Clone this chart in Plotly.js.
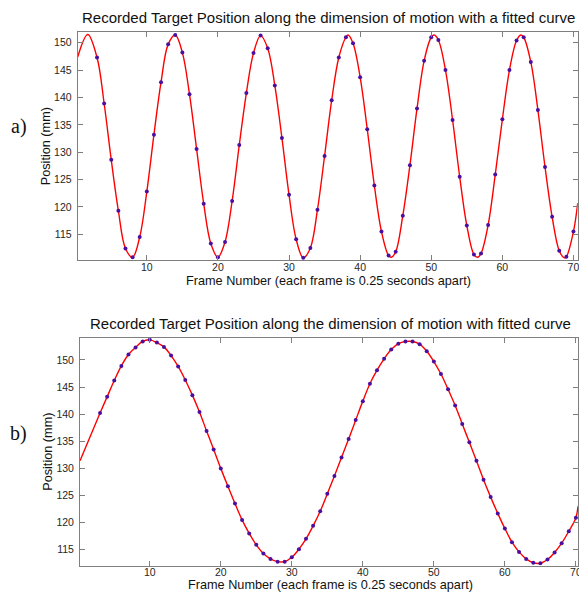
<!DOCTYPE html>
<html>
<head>
<meta charset="utf-8">
<script src="https://cdn.plot.ly/plotly-3.0.1.min.js"></script>
<style>html,body{margin:0;padding:0;background:#fff;}#chart{width:579px;height:592px;}</style>
</head>
<body>
<div id="chart"></div>
<script>
// ---- Panel a) recorded positions (frame 3..70) ----
var framesA = [3,4,5,6,7,8,9,10,11,12,13,14,15,16,17,18,19,20,21,22,23,24,25,26,27,28,29,30,31,32,33,34,35,36,37,38,39,40,41,42,43,44,45,46,47,48,49,50,51,52,53,54,55,56,57,58,59,60,61,62,63,64,65,66,67,68,69,70];
var posA = [147.3,138.9,128.6,119.3,112.4,110.8,114.5,122.8,133.2,142.8,149.7,151.4,148.2,140.6,130.6,120.6,113.3,110.8,113.6,121.1,131.3,140.8,148.1,151.3,149.0,142.2,132.6,122.2,114.1,110.7,112.5,119.5,129.3,139.5,147.3,151.0,149.9,143.7,134.2,123.9,115.5,111.1,111.8,118.4,127.6,138.0,146.7,151.0,150.5,145.0,135.9,125.5,116.6,111.3,111.5,116.7,125.9,136.0,145.0,150.4,151.0,146.5,137.7,127.3,118.2,112.0,110.9,115.5];
// extra points (edges and extrema between frames)
var curveExtraXA = [0.28, 1.7, 38.3, 44.4, 50.4, 56.5, 62.6, 68.7, 70.6];
var curveExtraYA = [147.4, 151.5, 151.4, 110.8, 151.4, 110.8, 151.4, 110.7, 120.7];

// ---- Panel b) recorded positions (frame 3..70) ----
var framesB = [3,4,5,6,7,8,9,10,11,12,13,14,15,16,17,18,19,20,21,22,23,24,25,26,27,28,29,30,31,32,33,34,35,36,37,38,39,40,41,42,43,44,45,46,47,48,49,50,51,52,53,54,55,56,57,58,59,60,61,62,63,64,65,66,67,68,69,70];
var posB = [140.2,143.2,146.2,148.9,151.0,152.3,153.4,153.7,153.2,152.4,150.8,148.8,146.3,143.5,140.4,136.9,133.5,130.0,126.7,123.5,120.5,118.0,115.9,114.3,113.3,112.8,112.8,113.6,115.1,117.0,119.4,122.1,125.3,128.6,132.0,135.4,138.9,142.4,145.6,148.1,150.2,151.9,153.0,153.4,153.4,152.9,151.6,149.7,147.4,144.6,141.6,138.2,134.8,131.4,127.9,124.7,121.7,118.9,116.4,114.6,113.3,112.6,112.5,113.2,114.5,116.2,118.4,120.9];
var curveExtraXB = [0.18, 70.3];
var curveExtraYB = [131.4, 123.0];

var titleA = 'Recorded Target Position along the dimension of motion with a fitted curve';
var titleB = 'Recorded Target Position along the dimension of motion with fitted curve';
var xTitle = 'Frame Number (each frame is 0.25 seconds apart)';
var yTitle = 'Position (mm)';
var xTicks = [10,20,30,40,50,60,70];
var yTicks = [115,120,125,130,135,140,145,150];

function mergeCurve(x1, y1, x2, y2) {
  var pts = [];
  for (var i = 0; i < x1.length; i++) pts.push([x1[i], y1[i]]);
  for (var j = 0; j < x2.length; j++) pts.push([x2[j], y2[j]]);
  pts.sort(function(a, b){ return a[0] - b[0]; });
  return {x: pts.map(function(p){return p[0];}), y: pts.map(function(p){return p[1];})};
}
var cA = mergeCurve(framesA, posA, curveExtraXA, curveExtraYA);
var cB = mergeCurve(framesB, posB, curveExtraXB, curveExtraYB);

var lineStyle = {color: '#ff0000', width: 1.4, shape: 'spline', smoothing: 1};
var markerStyle = {color: '#4b0fa0', size: 4, symbol: 'circle'};

var traces = [
  {x: cA.x, y: cA.y, mode: 'lines', line: lineStyle, xaxis: 'x', yaxis: 'y', hoverinfo: 'skip'},
  {x: framesA, y: posA, mode: 'markers', marker: markerStyle, xaxis: 'x', yaxis: 'y'},
  {x: cB.x, y: cB.y, mode: 'lines', line: lineStyle, xaxis: 'x2', yaxis: 'y2', hoverinfo: 'skip'},
  {x: framesB, y: posB, mode: 'markers', marker: markerStyle, xaxis: 'x2', yaxis: 'y2'}
];

var FONT = 'Liberation Sans, Arial, sans-serif';
var tickFont = {family: FONT, size: 10.5, color: '#262626'};
var titleFont = {family: FONT, size: 12.7, color: '#111'};
function xAx(domain, range, anchor) {
  return {domain: domain, range: range, anchor: anchor, tickvals: xTicks, ticks: 'inside', ticklen: 5,
    tickcolor: '#7f7f7f', showline: true, linecolor: '#7f7f7f', linewidth: 1, mirror: 'ticks',
    showgrid: false, zeroline: false, tickfont: tickFont, automargin: false, ticklabeloverflow: 'allow',
    ticklabelstandoff: -3};
}
function yAx(domain, range, anchor) {
  return {domain: domain, range: range, anchor: anchor, tickvals: yTicks, ticks: 'inside', ticklen: 5,
    tickcolor: '#7f7f7f', showline: true, linecolor: '#7f7f7f', linewidth: 1, mirror: 'ticks',
    showgrid: false, zeroline: false, tickfont: tickFont, automargin: false, ticklabelstandoff: 3,
    ticklabeloverflow: 'allow',
    title: {text: yTitle, font: titleFont, standoff: 0}};
}

function ann(text, xpx, ypx, font, size, rot) {
  return {text: text, xref: 'paper', yref: 'paper', x: xpx / 579, y: 1 - ypx / 592,
    xanchor: 'center', yanchor: 'middle', showarrow: false, textangle: rot || 0,
    font: {family: font, size: size, color: '#111'}};
}
var SERIF = 'Liberation Serif, Times New Roman, serif';

var layout = {
  width: 579, height: 592,
  margin: {l: 0, r: 0, t: 0, b: 0},
  paper_bgcolor: '#ffffff', plot_bgcolor: '#ffffff',
  showlegend: false,
  xaxis: xAx([0.1342, 0.9978], [0.28, 70.6], 'y'),
  yaxis: yAx([0.5608, 0.9454], [110.3, 151.9], 'x'),
  xaxis2: xAx([0.1382, 0.9983], [0.18, 70.3], 'y2'),
  yaxis2: yAx([0.0444, 0.4296], [112.05, 154.1], 'x2'),
  annotations: [
    ann(titleA, 328, 18, FONT, 15),
    ann(titleB, 330, 323, FONT, 15),
    ann(xTitle, 328, 281, FONT, 12.7),
    ann(xTitle, 330, 585, FONT, 12.7),
    ann('a)', 18.5, 127, SERIF, 20),
    ann('b)', 18.5, 433, SERIF, 20)
  ]
};

Plotly.newPlot('chart', traces, layout, {staticPlot: true, displayModeBar: false});
</script>
</body>
</html>
